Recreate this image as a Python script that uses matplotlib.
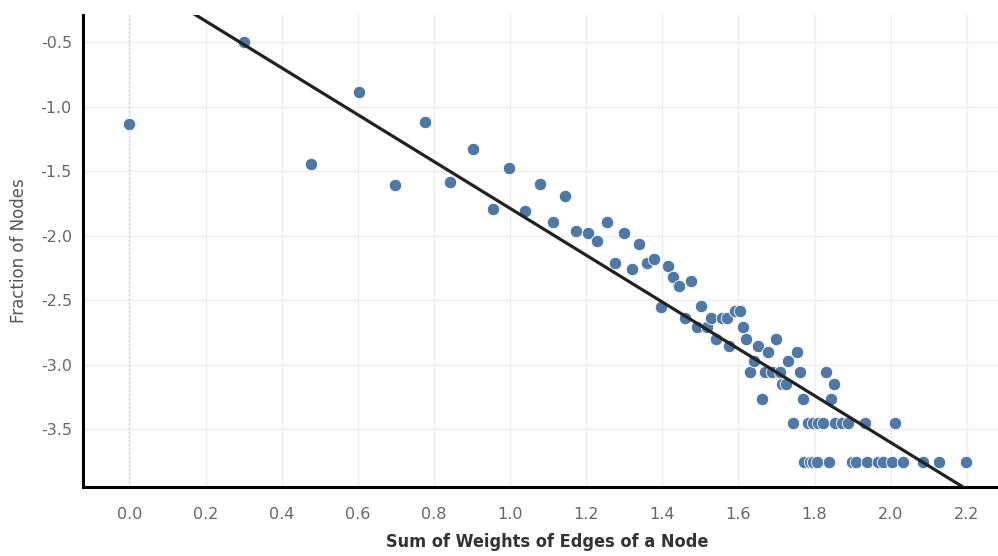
#Scatter of log node strength vs log fraction of nodes, with a linear trend line
import numpy as np
import matplotlib
matplotlib.use("Agg")
import matplotlib.pyplot as plt
from matplotlib import font_manager

#Data (log10 values)
weight_sum = [0.000, 0.300, 0.477, 0.602, 0.698, 0.777, 0.843, 0.902, 0.954, 0.998,
              1.040, 1.078, 1.113, 1.144, 1.174, 1.204, 1.228, 1.254, 1.277, 1.300,
              1.320, 1.340, 1.360, 1.379, 1.396, 1.414, 1.429, 1.445, 1.459, 1.476,
              1.490, 1.502, 1.517, 1.528, 1.542, 1.556, 1.569, 1.576, 1.591, 1.604,
              1.611, 1.621, 1.631, 1.641, 1.651, 1.662, 1.670, 1.679, 1.688, 1.698,
              1.710, 1.714, 1.725, 1.731, 1.754, 1.761, 1.769, 1.831, 1.844, 1.850,
              # two-node row
              1.743, 1.784, 1.797, 1.810, 1.823, 1.854, 1.872, 1.887, 1.933, 2.012,
              # single-node row
              1.773, 1.787, 1.797, 1.806, 1.837, 1.898, 1.909, 1.937, 1.968, 1.981,
              2.003, 2.032, 2.085, 2.128, 2.198]
node_frac = [-1.134, -0.495, -1.444, -0.886, -1.609, -1.121, -1.586, -1.328, -1.796, -1.473,
             -1.809, -1.602, -1.894, -1.690, -1.966, -1.977, -2.039, -1.896, -2.208, -1.977,
             -2.261, -2.067, -2.208, -2.179, -2.551, -2.233, -2.321, -2.391, -2.641, -2.352,
             -2.709, -2.548, -2.706, -2.641, -2.802, -2.641, -2.641, -2.854, -2.581, -2.581,
             -2.706, -2.802, -3.056, -2.973, -2.854, -3.270, -3.056, -2.905, -3.056, -2.802,
             -3.056, -3.153, -3.153, -2.973, -2.905, -3.056, -3.270, -3.056, -3.270, -3.153,
             -3.456, -3.456, -3.456, -3.456, -3.456, -3.456, -3.456, -3.456, -3.456, -3.456,
             -3.756, -3.756, -3.756, -3.756, -3.756, -3.756, -3.756, -3.756, -3.756, -3.756,
             -3.756, -3.756, -3.756, -3.756, -3.756]

x_ticks = [0.0, 0.2, 0.4, 0.6, 0.8, 1.0, 1.2, 1.4, 1.6, 1.8, 2.0, 2.2]
y_ticks = [-0.5, -1.0, -1.5, -2.0, -2.5, -3.0, -3.5]

x = np.array(weight_sum)
y = np.array(node_frac)
slope, intercept = np.polyfit(x, y, 1)   # linear trend

# look for a narrow font file for the x axis title
narrow_file = None
for pref in ["LiberationSansNarrow-Bold.", "DejaVuSansCondensed-Bold.", "LiberationSansNarrow-Regular.",
             "DejaVuSansCondensed."]:
    for f in font_manager.fontManager.ttflist:
        if pref in f.fname.split("/")[-1]:
            narrow_file = f.fname
            break
    if narrow_file:
        break
if narrow_file:
    xlab_font = font_manager.FontProperties(fname=narrow_file, size=13)
else:
    xlab_font = font_manager.FontProperties(family="DejaVu Sans", size=11.5, weight="bold")

fig = plt.figure(figsize=(9.98, 5.56), dpi=100)
ax = fig.add_axes([0.0832, 0.124, 0.9168, 0.849])

ax.scatter(x, y, s=80, color='#4e79a7', edgecolors='white', linewidths=0.6, zorder=3)
xl = np.array([-0.2, 2.4])
ax.plot(xl, intercept + slope*xl, color='#222222', linewidth=2.3, zorder=4)

ax.set_xlim(-0.122, 2.282)
ax.set_ylim(-3.95, -0.288)
ax.set_xticks(x_ticks)
ax.set_xticklabels(["%.1f" % v for v in x_ticks])
ax.set_yticks(y_ticks)
ax.set_yticklabels(["%.1f" % v for v in y_ticks])

ax.grid(True, color='#ededed', linewidth=1.0, zorder=0)
ax.axvline(0, color='#c8c8c8', linewidth=1.0, linestyle=(0, (1, 2)), zorder=1)
ax.set_axisbelow(True)

for s in ['top', 'right']:
    ax.spines[s].set_visible(False)
for s in ['left', 'bottom']:
    ax.spines[s].set_linewidth(2.2)
    ax.spines[s].set_color('black')

ax.tick_params(length=0, labelsize=11.5, labelcolor='#666666', pad=8)
ax.tick_params(axis='x', pad=14)
ax.set_xlabel("Sum of Weights of Edges of a Node", fontproperties=xlab_font, color='#333333')
ax.xaxis.set_label_coords(0.507, -0.098)
ax.set_ylabel("Fraction of Nodes", fontsize=12, color='#555555', labelpad=9)

fig.savefig("out.png", dpi=100)
